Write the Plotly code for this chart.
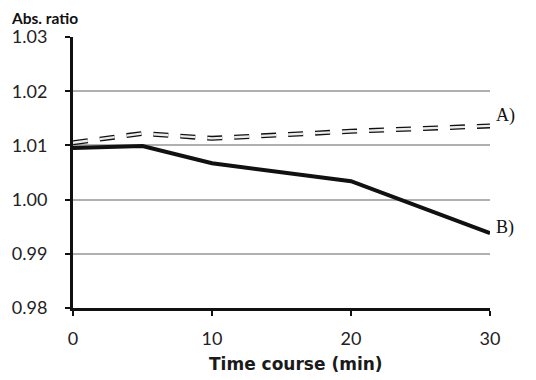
import plotly.graph_objects as go

time_min = [0, 5, 10, 20, 30]
series_a = [1.0105, 1.0122, 1.0113, 1.0126, 1.0136]
series_b = [1.0095, 1.0099, 1.0067, 1.0034, 0.9938]
y_ticks = [0.98, 0.99, 1.00, 1.01, 1.02, 1.03]
x_ticks = [0, 10, 20, 30]
labels = ["A)", "B)"]
label_y = [1.0155, 0.9948]

fig = go.Figure()
# Series A: hollow dashed line (black outer, light inner)
fig.add_trace(go.Scatter(x=time_min, y=series_a, mode="lines",
                         line=dict(color="#111111", width=5, dash="15px,12px"),
                         showlegend=False, hoverinfo="skip"))
fig.add_trace(go.Scatter(x=time_min, y=series_a, mode="lines",
                         line=dict(color="#ececec", width=2.4, dash="15px,12px"),
                         showlegend=False, hoverinfo="skip"))
# Series B: solid thick black
fig.add_trace(go.Scatter(x=time_min, y=series_b, mode="lines",
                         line=dict(color="#111111", width=4),
                         showlegend=False))

for t, yy in zip(labels, label_y):
    fig.add_annotation(x=30, y=yy, xref="x", yref="y", text=t, showarrow=False,
                       xanchor="left", xshift=4,
                       font=dict(family="Liberation Serif", size=18, color="#111111"))

fig.add_annotation(x=-0.15, y=1.107, xref="paper", yref="paper",
                   text="<b>Abs. ratio</b>", showarrow=False,
                   xanchor="left", yanchor="top", borderpad=0,
                   font=dict(family="Lato", size=15.5, color="#111111"))
fig.add_annotation(x=0.535, y=-0.2066, xref="paper", yref="paper",
                   text="<b>Time course (min)</b>", showarrow=False,
                   xanchor="center", yanchor="middle",
                   font=dict(family="DejaVu Sans", size=17, color="#1a1a1a"))

fig.update_layout(
    width=528, height=372,
    margin=dict(l=65, r=46, t=29, b=72),
    plot_bgcolor="white", paper_bgcolor="white",
    font=dict(family="Lato", size=18, color="#222222"),
    xaxis=dict(range=[0, 30], tickvals=x_ticks, showgrid=False, zeroline=False,
               showline=True, linecolor="#111111", linewidth=3,
               ticks="outside", ticklen=5, tickwidth=2, tickcolor="#111111",
               ticklabelstandoff=7, automargin=False),
    yaxis=dict(range=[0.98, 1.03], tickvals=y_ticks, tickformat=".2f",
               showgrid=True, gridcolor="#b0b0b0", gridwidth=1.5, zeroline=False,
               showline=True, linecolor="#111111", linewidth=3,
               ticks="outside", ticklen=5, tickwidth=2, tickcolor="#111111",
               ticklabelstandoff=14, automargin=False),
)
fig.write_html("out.html")
